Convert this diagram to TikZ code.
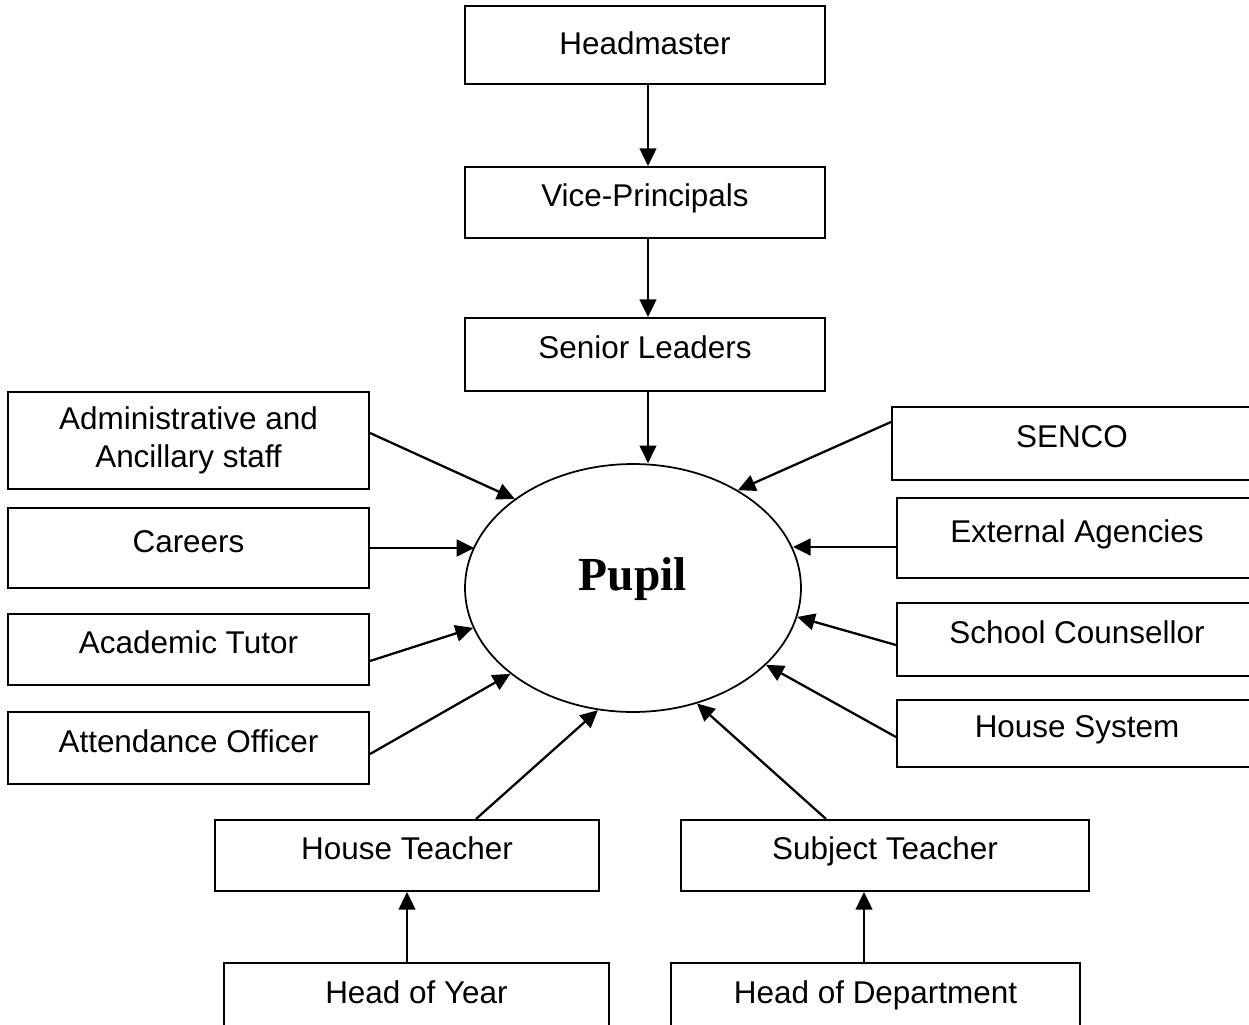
\documentclass[tikz,border=0pt]{standalone}
\usepackage{fontspec}
\setmainfont{Liberation Sans}
\newfontfamily\pupilfont{Liberation Serif}
\usepackage{tikz}
\usetikzlibrary{shapes.geometric, arrows.meta, positioning}
\definecolor{mydark}{RGB}{0,0,0}
\tikzset{
  box/.style={rectangle, draw=mydark, fill=white, inner sep=0pt,
    minimum width=7.2cm, text height=13pt, text depth=8pt,
    font=\fontsize{17.9}{21.5}\selectfont, line width=1.2pt},
  twobox/.style={rectangle, draw=mydark, fill=white, inner sep=0pt,
    minimum width=7.2cm, align=center,
    font=\fontsize{17.9}{21.5}\selectfont, line width=1.2pt},
  centre/.style={ellipse, draw=mydark, fill=white, inner sep=0pt,
    minimum width=6.72cm, minimum height=4.96cm,
    text height=18pt, text depth=15.5pt,
    font=\pupilfont\bfseries\fontsize{27}{32}\selectfont, line width=1pt},
  arrow/.style={-{Triangle[length=10pt,width=9.5pt]}, line width=1.3pt, color=mydark}
}

\begin{document}
\begin{tikzpicture}[x=0.02cm, y=-0.02cm]
  \useasboundingbox (0,0) rectangle (1249,1025);
  \clip (0,0) rectangle (1249,1025);
  \fill[white] (0,0) rectangle (1249,1025);
  % Chain of command
  \node[box, minimum height=1.56cm, text depth=2.5pt] (head) at (645,45) {Headmaster};
  \node[box, minimum height=1.42cm] (vice) at (645,202.5) {Vice-Principals};
  \node[box, minimum height=1.46cm] (senior) at (645,354.5) {Senior Leaders};
  % Pupil in the middle
  \node[centre] (pupil) at (633,588) {Pupil};
  % Left column
  \node[twobox, minimum width=7.22cm, minimum height=1.94cm] (admin) at (188.5,440.5)
    {Administrative and\\Ancillary staff};
  \node[box, minimum width=7.22cm, minimum height=1.6cm] (careers) at (188.5,548) {Careers};
  \node[box, minimum width=7.22cm, minimum height=1.42cm] (tutor) at (188.5,649.5) {Academic Tutor};
  \node[box, minimum width=7.22cm, minimum height=1.44cm] (attend) at (188.5,748) {Attendance Officer};
  % Right column
  \node[box, minimum height=1.46cm] (senco) at (1072,443.5) {SENCO};
  \node[box, minimum height=1.6cm] (external) at (1077,538) {External Agencies};
  \node[box, minimum height=1.46cm] (counsel) at (1077,639.5) {School Counsellor};
  \node[box, minimum height=1.34cm] (housesys) at (1077,733.5) {House System};
  % Teachers and their heads
  \node[box, minimum width=7.68cm, minimum height=1.42cm] (houset) at (407,855.5) {House Teacher};
  \node[box, minimum width=8.16cm, minimum height=1.42cm] (subject) at (885,855.5) {Subject Teacher};
  \node[box, minimum width=7.7cm, minimum height=1.44cm] (hoy) at (416.5,999) {Head of Year};
  \node[box, minimum width=8.18cm, minimum height=1.44cm] (hod) at (875.5,999) {Head of Department};

  % Downward arrows
  \draw[arrow] ([xshift=0.06cm]head.south) -- ([xshift=0.06cm]vice.north);
  \draw[arrow] ([xshift=0.06cm]vice.south) -- ([xshift=0.06cm]senior.north);
  \draw[arrow] ([xshift=0.06cm]senior.south) -- ([xshift=0.06cm]senior.south |- pupil.north);
  % Left side into pupil
  \draw[arrow] ([yshift=0.15cm]admin.east) -- (pupil.143);
  \draw[arrow] (careers.east) -- (pupil.165.5 |- careers.east);
  \draw[arrow] ([yshift=-0.23cm]tutor.east) -- (pupil.194.7);
  \draw[arrow] ([yshift=-0.12cm]attend.east) -- (pupil.215);
  % Right side into pupil
  \coordinate (exttail) at ([yshift=-0.18cm]external.west);
  \draw[arrow] ([yshift=0.43cm]senco.west) -- (pupil.43);
  \draw[arrow] (exttail) -- (pupil.14.5 |- exttail);
  \draw[arrow] ([yshift=-0.11cm]counsel.west) -- (pupil.350.3);
  \draw[arrow] ([yshift=-0.07cm]housesys.west) -- (pupil.330.2);
  % Teachers up to pupil
  \draw[arrow] ([xshift=1.38cm]houset.north) -- (pupil.254.8);
  \draw[arrow] ([xshift=-1.18cm]subject.north) -- (pupil.299.5);
  \draw[arrow] (houset.south |- hoy.north) -- (houset.south);
  \draw[arrow] ([xshift=-0.23cm]hod.north) -- ([xshift=-0.23cm]hod.north |- subject.south);
\end{tikzpicture}
\end{document}
